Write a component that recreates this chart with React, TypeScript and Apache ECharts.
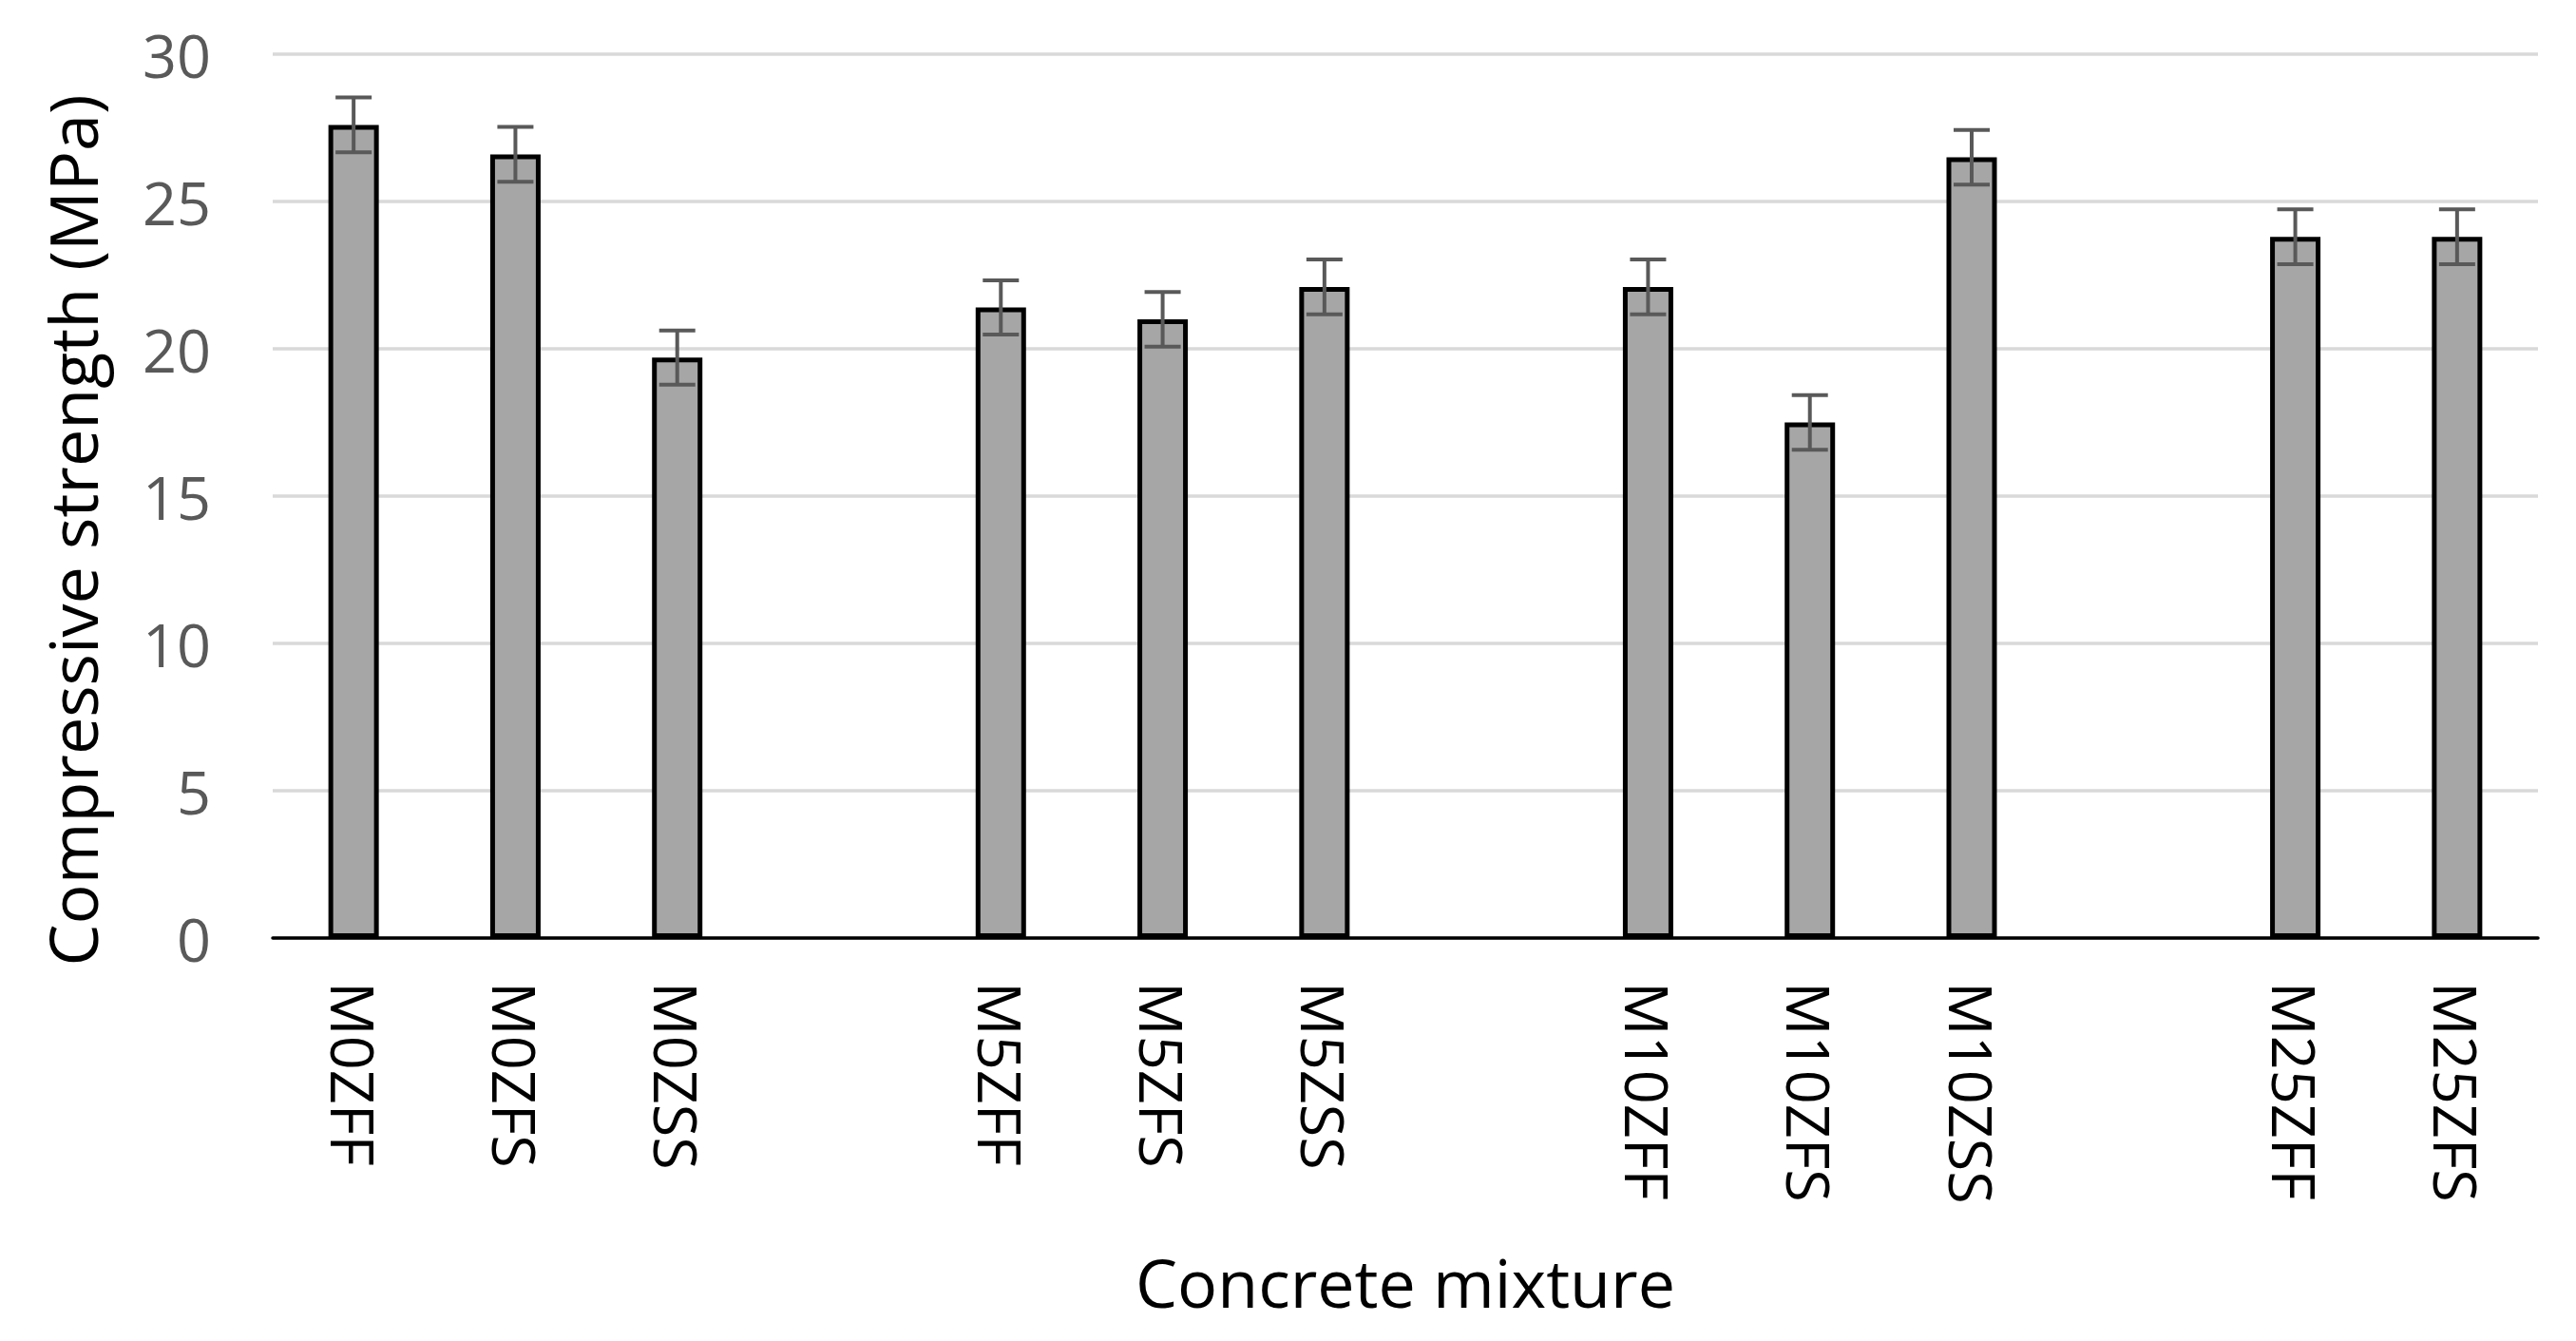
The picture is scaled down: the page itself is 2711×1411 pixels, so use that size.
import React, { useEffect, useRef } from "react";
import * as echarts from "echarts";

const categories = [
  "M0ZFF", "M0ZFS", "M0ZSS", "",
  "M5ZFF", "M5ZFS", "M5ZSS", "",
  "M10ZFF", "M10ZFS", "M10ZSS", "",
  "M25ZFF", "M25ZFS",
];
const strength = [27.6, 26.6, 19.7, null, 21.4, 21.0, 22.1, null, 22.1, 17.5, 26.5, null, 23.8, 23.8];
const errors = [0.93, 0.93, 0.92, null, 0.92, 0.93, 0.93, null, 0.93, 0.93, 0.93, null, 0.93, 0.93];
const yTicks = [0, 5, 10, 15, 20, 25, 30];

const xTitle = "Concrete mixture";
const yTitle = "Compressive strength (MPa)";

export default function App() {
  const ref = useRef<HTMLDivElement>(null);
  useEffect(() => {
    document.body.style.margin = "0";
    document.body.style.overflow = "hidden";
    if (!ref.current) return;
    const chart = echarts.init(ref.current, null, { renderer: "svg" });

    const errData: any[] = [];
    strength.forEach((v, i) => {
      if (v != null && errors[i] != null) {
        errData.push([i, v - (errors[i] as number), v + (errors[i] as number)]);
      }
    });

    const font = "Open Sans";
    chart.setOption({
      animation: false,
      backgroundColor: "#ffffff",
      grid: { left: 287, right: 40, top: 57, bottom: 424, containLabel: false },
      xAxis: {
        type: "category",
        data: categories,
        axisLine: { show: true, lineStyle: { color: "#000000", width: 3.5 } },
        axisTick: { show: false },
        axisLabel: {
          rotate: -90,
          margin: 46,
          interval: 0,
          color: "#000000",
          fontFamily: font,
          fontSize: 63,
        },
        name: xTitle,
        nameLocation: "middle",
        nameGap: 327,
        nameTextStyle: { color: "#000000", fontFamily: font, fontSize: 70 },
      },
      yAxis: {
        type: "value",
        min: yTicks[0],
        max: yTicks[yTicks.length - 1],
        interval: 5,
        axisLine: { show: false },
        axisTick: { show: false },
        axisLabel: {
          margin: 65,
          color: "#595959",
          fontFamily: font,
          fontSize: 63,
        },
        splitLine: { show: true, lineStyle: { color: "#d9d9d9", width: 3.5 } },
      },
      graphic: [
        {
          type: "text",
          x: 76,
          y: 558,
          rotation: Math.PI / 2,
          style: {
            text: yTitle,
            fill: "#000000",
            font: `70px "${font}"`,
            textAlign: "center",
            textVerticalAlign: "middle",
          },
        },
      ],
      series: [
        {
          type: "bar",
          data: strength.map((v) => (v == null ? "-" : v)),
          barWidth: 53,
          itemStyle: { color: "#a6a6a6", borderColor: "#000000", borderWidth: 5 },
          z: 2,
        },
        {
          type: "custom",
          data: errData,
          z: 3,
          renderItem: (params: any, api: any) => {
            const x = api.value(0);
            const lo = api.coord([x, api.value(1)]);
            const hi = api.coord([x, api.value(2)]);
            const half = 19;
            const st = { stroke: "#595959", lineWidth: 4 };
            return {
              type: "group",
              children: [
                { type: "line", shape: { x1: hi[0], y1: hi[1], x2: lo[0], y2: lo[1] }, style: st },
                { type: "line", shape: { x1: hi[0] - half, y1: hi[1], x2: hi[0] + half, y2: hi[1] }, style: st },
                { type: "line", shape: { x1: lo[0] - half, y1: lo[1], x2: lo[0] + half, y2: lo[1] }, style: st },
              ],
            };
          },
        },
      ],
    });
    return () => chart.dispose();
  }, []);
  return <div ref={ref} style={{ width: 2711, height: 1411 }} />;
}
